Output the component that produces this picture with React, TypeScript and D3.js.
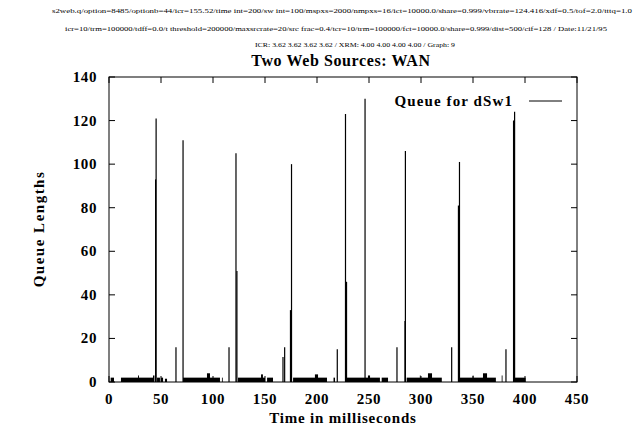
import React from "react";
import * as d3 from "d3";

const headerLines = [
  "s2web.q/option=8485/optionb=44/icr=155.52/time  int=200/sw  int=100/mspxs=2000/nmpxs=16/ict=10000.0/share=0.999/vbrrate=124.416/xdf=0.5/tof=2.0/tttq=1.0",
  "icr=10/trm=100000/tdff=0.0/t  threshold=200000/maxsrcrate=20/src frac=0.4/tcr=10/trm=100000/fct=10000.0/share=0.999/dist=500/cif=128 / Date:11/21/95",
  "ICR: 3.62 3.62 3.62 3.62 / XRM: 4.00 4.00 4.00 4.00 / Graph: 9",
];
const title = "Two Web Sources: WAN";
const xLabel = "Time in milliseconds";
const yLabel = "Queue Lengths";
const legendLabel = "Queue for dSw1";

const xTicks = [0, 50, 100, 150, 200, 250, 300, 350, 400, 450];
const yTicks = [0, 20, 40, 60, 80, 100, 120, 140];

// single-sample spikes in the queue trace
const spikeTimes = [44.8, 45.3, 64.4, 71.2, 115.4, 122.1, 123.0, 167.3, 168.9, 174.5, 175.5, 219.5, 227.4, 228.4, 246.2, 276.9, 284.6, 285.0, 329.5, 336.0, 337.0, 381.7, 389.0, 390.0];
const spikeValues = [93, 121, 16, 111, 16, 105, 51, 11.5, 16, 33, 100, 15, 123, 46, 130, 16, 28, 106, 16, 81, 101, 15, 120, 124];

// busy periods where the queue hovers at a small level
const busyStart = [1.6, 11.5, 27.9, 42.3, 46.2, 50.0, 53.8, 71.2, 94.2, 108.6, 124.0, 146.2, 152.0, 177.0, 198.0, 215.9, 228.8, 249.0, 262.2, 286.2, 298.9, 306.7, 337.5, 349.7, 359.6, 377.6, 389.4];
const busyEnd = [4.8, 43.3, 28.8, 43.7, 49.0, 52.0, 55.8, 106.7, 97.1, 109.3, 150.0, 148.0, 157.7, 209.6, 201.0, 217.3, 260.5, 251.0, 268.3, 320.0, 299.5, 310.6, 372.0, 350.3, 363.5, 378.2, 400.6];
const busyLevel = [2, 2, 3, 3, 2, 2, 1.5, 2, 4, 2, 2, 3.5, 2, 2, 3.5, 2, 2, 3, 2, 2, 3, 4, 2, 3, 4, 3, 2];

const W = 634;
const H = 430;
const margin = { left: 109, right: 57, top: 77, bottom: 48 };
const font = "'Liberation Serif', 'Times New Roman', serif";

const App = (): JSX.Element => {
  const x = d3.scaleLinear().domain([0, 450]).range([margin.left, W - margin.right]);
  const y = d3.scaleLinear().domain([0, 140]).range([H - margin.bottom, margin.top]);
  const x0 = x(0), x1 = x(450), y0 = y(0), y1 = y(140);
  const tick = 6;

  return (
    <svg width={W} height={H} viewBox={`0 0 ${W} ${H}`} style={{ position: "absolute", left: 0, top: 0, background: "#fff" }} fontFamily={font}>
      {/* header */}
      <text x={52} y={13} fontSize={7} textLength={580} lengthAdjust="spacingAndGlyphs">{headerLines[0]}</text>
      <text x={65} y={31} fontSize={7} textLength={542} lengthAdjust="spacingAndGlyphs">{headerLines[1]}</text>
      <text x={255} y={47} fontSize={7} textLength={200} lengthAdjust="spacingAndGlyphs">{headerLines[2]}</text>
      <text x={341} y={66} fontSize={16} fontWeight="bold" textAnchor="middle" letterSpacing={0.6}>{title}</text>

      {/* busy periods */}
      <g fill="#000">
        {busyStart.map((s, i) => (
          <rect key={i} x={x(s)} y={y(busyLevel[i])} width={Math.max(0.8, x(busyEnd[i]) - x(s))} height={y0 - y(busyLevel[i])} />
        ))}
      </g>
      {/* spikes */}
      <g stroke="#000" strokeWidth={1.2}>
        {spikeTimes.map((t, i) => (
          <line key={i} x1={x(t)} x2={x(t)} y1={y0} y2={y(spikeValues[i])} />
        ))}
      </g>

      {/* frame */}
      <rect x={x0} y={y1} width={x1 - x0} height={y0 - y1} fill="none" stroke="#000" strokeWidth={1} />
      <g stroke="#000" strokeWidth={1}>
        {xTicks.map((t) => (
          <g key={"x" + t}>
            <line x1={x(t)} x2={x(t)} y1={y0} y2={y0 - tick} />
            <line x1={x(t)} x2={x(t)} y1={y1} y2={y1 + tick} />
          </g>
        ))}
        {yTicks.map((t) => (
          <g key={"y" + t}>
            <line x1={x0} x2={x0 + tick} y1={y(t)} y2={y(t)} />
            <line x1={x1} x2={x1 - tick} y1={y(t)} y2={y(t)} />
          </g>
        ))}
      </g>
      <g fontSize={15} fontWeight="bold" letterSpacing={0.6}>
        {xTicks.map((t) => (
          <text key={"xl" + t} x={x(t)} y={y0 + 22} textAnchor="middle">{t}</text>
        ))}
        {yTicks.map((t) => (
          <text key={"yl" + t} x={x0 - 12} y={y(t) + 5} textAnchor="end">{t}</text>
        ))}
      </g>
      <text x={343} y={423} fontSize={15} fontWeight="bold" textAnchor="middle" letterSpacing={0.8}>{xLabel}</text>
      <text transform={`translate(44,229) rotate(-90)`} fontSize={15} fontWeight="bold" textAnchor="middle" letterSpacing={1.5}>{yLabel}</text>

      {/* legend */}
      <text x={513} y={106} fontSize={15} fontWeight="bold" textAnchor="end" letterSpacing={1.1}>{legendLabel}</text>
      <line x1={529} x2={562} y1={101} y2={101} stroke="#000" strokeWidth={1} />
    </svg>
  );
};

export default App;
